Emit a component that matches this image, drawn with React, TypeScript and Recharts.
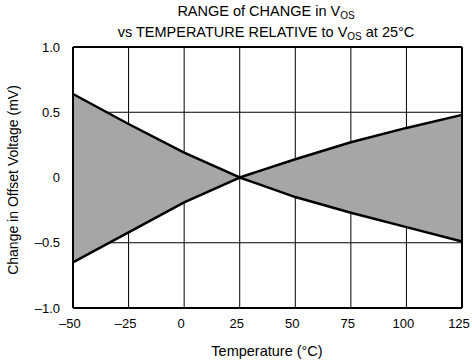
import React from 'react'
import { ComposedChart, Area, Line, XAxis, YAxis, CartesianGrid, ReferenceLine } from 'recharts'

const temps = [-50, -25, 0, 25, 50, 75, 100, 125]
const upper = [0.64, 0.41, 0.19, 0, 0.14, 0.27, 0.38, 0.48]
const lower = [-0.65, -0.42, -0.19, 0, -0.15, -0.27, -0.38, -0.49]
const xTicks = [-50, -25, 0, 25, 50, 75, 100, 125]
const yTicks = [-1, -0.5, 0, 0.5, 1]
const yTickLabels = ['\u20131.0', '\u20130.5', '0', '0.5', '1.0']

const data = temps.map((t, i) => ({ t, hi: upper[i], lo: lower[i], range: [lower[i], upper[i]] }))

const FONT = '"Liberation Sans", Arial, Helvetica, sans-serif'
const tickStyle = { fontSize: 13, fill: '#000', fontFamily: FONT }

const fmtX = (v: number) => (v < 0 ? '\u2013' + Math.abs(v) : String(v))
const fmtY = (v: number) => yTickLabels[yTicks.indexOf(v)] ?? String(v)

const App = () => {
  return (
    <div style={{ position: 'absolute', left: 0, top: 0, width: 472, height: 364, background: '#fff', fontFamily: FONT }}>
      <div style={{ position: 'absolute', left: 0, width: 532, top: 3, textAlign: 'center', fontSize: 14.5, lineHeight: '16px', color: '#000' }}>
        <div>RANGE of CHANGE in V<sub style={{ fontSize: 10, verticalAlign: '-3px' }}>OS</sub></div>
        <div>vs TEMPERATURE RELATIVE to V<sub style={{ fontSize: 10, verticalAlign: '-3px' }}>OS</sub> at 25°C</div>
      </div>
      <div
        style={{
          position: 'absolute', left: 13, top: 180, width: 0, height: 0, fontSize: 14, color: '#000',
        }}
      >
        <div style={{ position: 'absolute', transform: 'translate(-50%, -50%) rotate(-90deg)', whiteSpace: 'nowrap' }}>
          Change in Offset Voltage (mV)
        </div>
      </div>
      <div style={{ position: 'absolute', left: 0, width: 534, top: 343, textAlign: 'center', fontSize: 14.5, color: '#000' }}>
        Temperature (°C)
      </div>
      <div style={{ position: 'absolute', left: 0, top: 0 }}>
        <ComposedChart width={472} height={364} data={data} margin={{ top: 47, right: 10, left: 0, bottom: 0 }}>
          <CartesianGrid stroke="#000" strokeWidth={1} />
          <XAxis
            dataKey="t"
            type="number"
            domain={[-50, 125]}
            ticks={xTicks}
            tickFormatter={fmtX}
            height={56}
            tickSize={0}
            tickMargin={11}
            tick={{ ...tickStyle, dx: -3 }}
            axisLine={{ stroke: '#000', strokeWidth: 2 }}
          />
          <YAxis
            type="number"
            domain={[-1, 1]}
            ticks={yTicks}
            tickFormatter={fmtY}
            width={73}
            tickSize={0}
            tickMargin={13}
            tick={tickStyle}
            axisLine={{ stroke: '#000', strokeWidth: 2 }}
          />
          <Area dataKey="range" type="linear" fill="#a6a6a6" fillOpacity={1} stroke="none" isAnimationActive={false} />
          <Line dataKey="hi" type="linear" stroke="#000" strokeWidth={2.5} dot={false} isAnimationActive={false} />
          <Line dataKey="lo" type="linear" stroke="#000" strokeWidth={2.5} dot={false} isAnimationActive={false} />
          <ReferenceLine y={1} stroke="#000" strokeWidth={2} />
          <ReferenceLine x={125} stroke="#000" strokeWidth={2} />
        </ComposedChart>
      </div>
    </div>
  )
}

export default App
